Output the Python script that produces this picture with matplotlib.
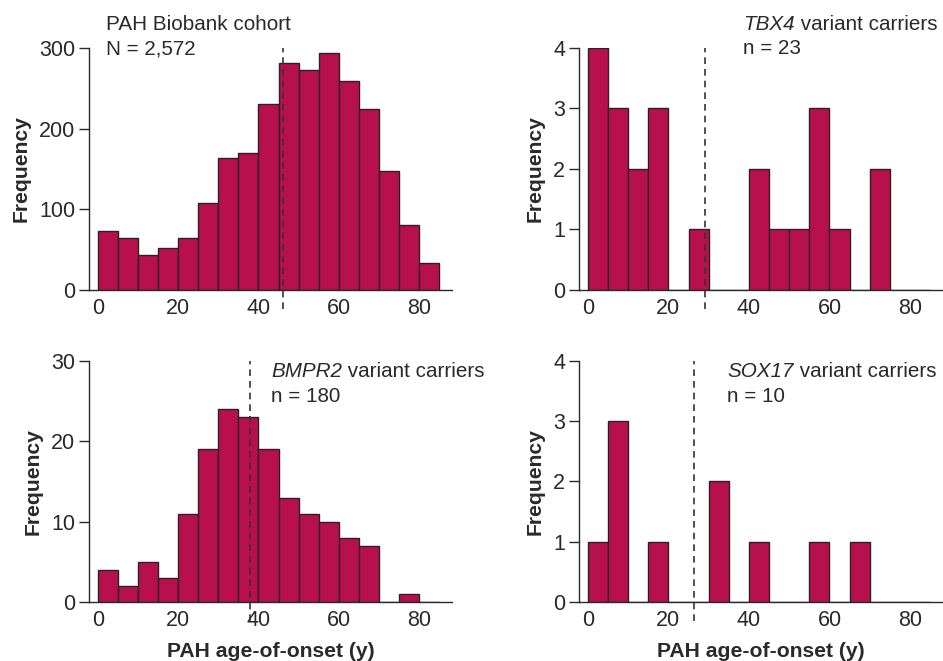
"""Age-of-onset histograms for the PAH biobank cohort and variant-carrier subgroups."""

import matplotlib
matplotlib.use("Agg")
import matplotlib.pyplot as plt  # noqa: E402

BAR = "#b8104c"
EDGE = "#2b2024"
INK = "#2a2a2a"

# left edge of each 5-year age bin
AGE_BINS = [0, 5, 10, 15, 20, 25, 30, 35, 40, 45, 50, 55, 60, 65, 70, 75, 80]
BIN_WIDTH = 5

PAH_COUNTS = [73, 64, 43, 52, 65, 108, 163, 170, 231, 281, 273, 294, 259, 224, 148, 81, 33]
TBX4_COUNTS = [4, 3, 2, 3, 0, 1, 0, 0, 2, 1, 1, 3, 1, 0, 2, 0, 0]
BMPR2_COUNTS = [4, 2, 5, 3, 11, 19, 24, 23, 19, 13, 11, 10, 8, 7, 0, 1, 0]
SOX17_COUNTS = [1, 3, 0, 1, 0, 0, 2, 0, 1, 0, 0, 1, 0, 1, 0, 0, 0]

# median age-of-onset (dashed line)
PAH_MEDIAN = 46.2
TBX4_MEDIAN = 29.0
BMPR2_MEDIAN = 37.8
SOX17_MEDIAN = 26.4

X_TICKS = [0, 20, 40, 60, 80]

FS = 15.5
FS_NOTE = 14.9

plt.rcParams["font.family"] = ["Liberation Sans", "DejaVu Sans"]

fig = plt.figure(figsize=(9.43, 6.61), dpi=100)

panels = [
    # rect, counts, median, yticks, ymax, title (italic, plain), n-label, text x
    ([0.0944, 0.5613, 0.385, 0.3661], PAH_COUNTS, PAH_MEDIAN, [0, 100, 200, 300], 300,
     ("", "PAH Biobank cohort"), "N = 2,572", 106),
    ([0.614, 0.5613, 0.386, 0.3661], TBX4_COUNTS, TBX4_MEDIAN, [0, 1, 2, 3, 4], 4,
     ("TBX4", " variant carriers"), "n = 23", 743),
    ([0.0944, 0.0893, 0.385, 0.3646], BMPR2_COUNTS, BMPR2_MEDIAN, [0, 10, 20, 30], 30,
     ("BMPR2", " variant carriers"), "n = 180", 271),
    ([0.614, 0.0893, 0.386, 0.3646], SOX17_COUNTS, SOX17_MEDIAN, [0, 1, 2, 3, 4], 4,
     ("SOX17", " variant carriers"), "n = 10", 727),
]

for i, (rect, counts, med, yticks, ymax, (ital, plain), nlab, tx) in enumerate(panels):
    ax = fig.add_axes(rect)
    ax.bar(AGE_BINS, counts, width=BIN_WIDTH, align="edge", color=BAR,
           edgecolor=EDGE, linewidth=1.0, zorder=2)
    ax.set_xlim(-2.2, 88.2)
    ax.set_ylim(0, ymax)
    ax.set_xticks(X_TICKS)
    ax.set_yticks(yticks)
    ax.tick_params(axis="x", length=0, pad=6, labelsize=FS, colors=INK)
    ax.tick_params(axis="y", length=7, width=1, pad=3, labelsize=FS, colors=INK)
    ax.spines[["top", "right"]].set_visible(False)
    for s in ("left", "bottom"):
        ax.spines[s].set_color(INK)
        ax.spines[s].set_linewidth(1.0)
    # dashed median line running a little below the axis
    ax.plot([med, med], [-0.08 * ymax, ymax], ls=(0, (4, 3)), color="#333333",
            lw=1.2, clip_on=False, zorder=3)
    ax.set_ylabel("Frequency", fontsize=15.2, fontweight="bold", color=INK, labelpad=6)
    if i >= 2:
        ax.set_xlabel("PAH age-of-onset (y)", fontsize=15.2, fontweight="bold",
                      color=INK, labelpad=8)

    # annotation text placed in figure pixel coordinates
    y1 = 24 if i < 2 else 372
    y2 = 49 if i < 2 else 397
    fx = tx / 943
    if ital:
        t = fig.text(fx, 1 - y1 / 661, ital, fontsize=FS_NOTE, style="italic",
                     color=INK, va="center", ha="left")
        fig.canvas.draw()
        bb = t.get_window_extent()
        fig.text(bb.x1 / fig.bbox.width, 1 - y1 / 661, plain, fontsize=FS_NOTE,
                 color=INK, va="center", ha="left")
    else:
        fig.text(fx, 1 - y1 / 661, plain, fontsize=FS_NOTE, color=INK,
                 va="center", ha="left")
    fig.text(fx, 1 - y2 / 661, nlab, fontsize=FS_NOTE, color=INK, va="center", ha="left")

fig.savefig("out.png", dpi=100)
